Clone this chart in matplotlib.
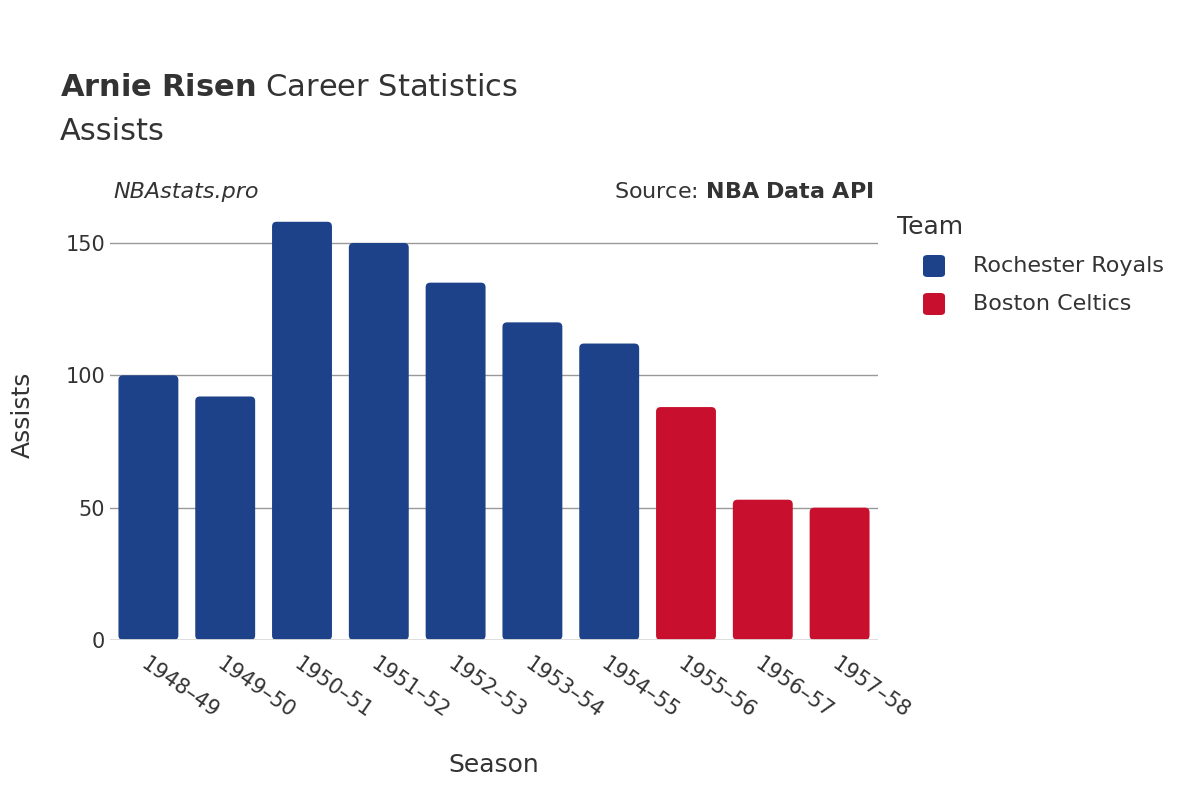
import matplotlib
matplotlib.use("Agg")
import matplotlib.pyplot as plt
from matplotlib.patches import FancyBboxPatch
from matplotlib.lines import Line2D

seasons = ["1948–49","1949–50","1950–51","1951–52","1952–53","1953–54","1954–55","1955–56","1956–57","1957–58"]
assists = [100, 92, 158, 150, 135, 120, 112, 88, 53, 50]
teams = ["Rochester Royals"]*7 + ["Boston Celtics"]*3
team_colors = {"Rochester Royals": "#1d4289", "Boston Celtics": "#c8102e"}

plt.rcParams["font.family"] = "DejaVu Sans"
fig = plt.figure(figsize=(12, 8), dpi=100)
ax = fig.add_axes([110/1200, 1-640/800, 768/1200, 450/800])
ymax = 450/2.647
ax.set_ylim(0, ymax)
ax.set_xlim(-0.5, len(seasons)-0.5)
for i, (v, t) in enumerate(zip(assists, teams)):
    p = FancyBboxPatch((i-0.39, 0), 0.78, v, boxstyle="round,pad=0,rounding_size=0.06",
                       mutation_aspect=ymax/450*768/10, fc=team_colors[t], ec="none", zorder=3)
    ax.add_patch(p)
ax.set_yticks([0, 50, 100, 150])
ax.grid(axis="y", color="#999999", lw=1, zorder=0)
ax.axhline(0, color="#dddddd", lw=2, zorder=4)
for s in ax.spines.values():
    s.set_visible(False)
ax.tick_params(length=0, labelsize=15, colors="#333333")
ax.set_xticks(range(len(seasons)))
ax.set_xticklabels(seasons, rotation=-35, ha="left", rotation_mode="anchor")
ax.tick_params(axis="x", pad=10)
ax.set_xlabel("Season", fontsize=18, color="#333333", labelpad=22)
ax.set_ylabel("Assists", fontsize=18, color="#333333", labelpad=22)

fig.text(60/1200, 1-88/800, r"$\bf{Arnie\ Risen}$ Career Statistics", fontsize=22, color="#333333", va="center")
fig.text(60/1200, 1-132/800, "Assists", fontsize=22, color="#333333", va="center")
fig.text(113/1200, 1-192/800, "NBAstats.pro", fontsize=16, style="italic", color="#333333", va="center")
fig.text(874/1200, 1-192/800, r"Source: $\bf{NBA\ Data\ API}$", fontsize=16, color="#333333", va="center", ha="right")

fig.text(897/1200, 1-227/800, "Team", fontsize=18, color="#333333", va="center")
for j, t in enumerate(["Rochester Royals", "Boston Celtics"]):
    y = 1-(266+38*j)/800
    fig.patches.append(FancyBboxPatch((923/1200, y-11/800), 22/1200, 22/800,
        boxstyle="round,pad=0,rounding_size=0.004", fc=team_colors[t], ec="none",
        transform=fig.transFigure, figure=fig))
    fig.text(973/1200, y, t, fontsize=16, color="#333333", va="center")

fig.savefig("out.png", dpi=100, facecolor="white")
